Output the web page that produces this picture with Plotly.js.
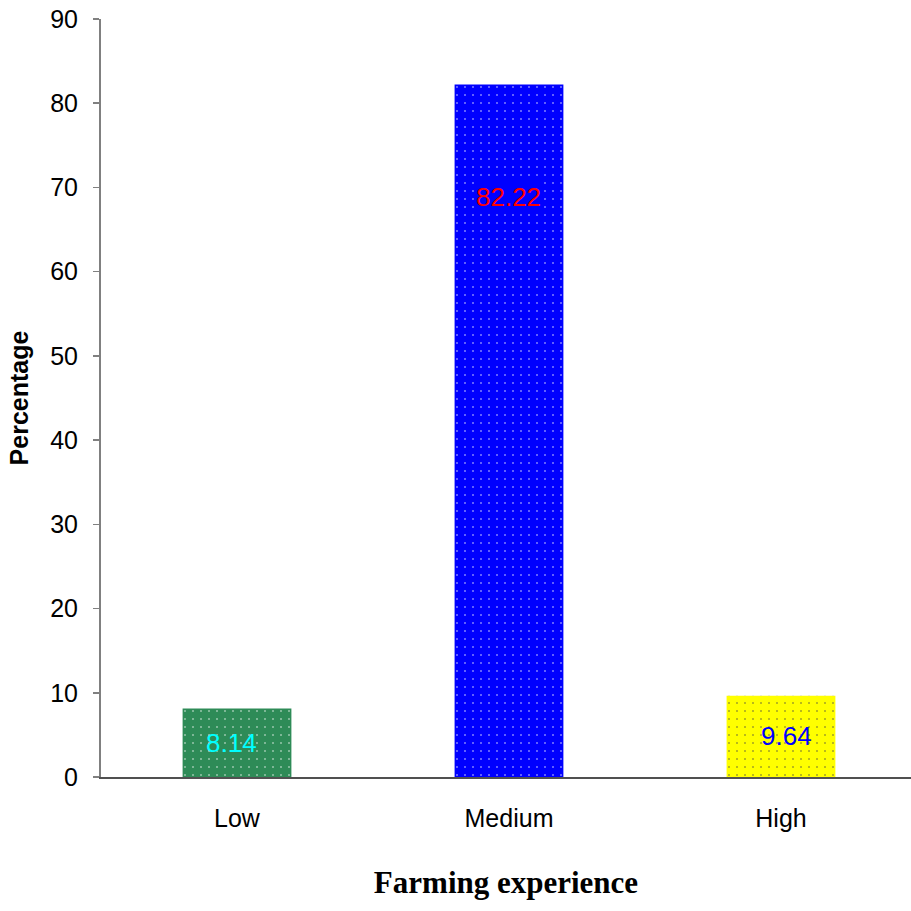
<!DOCTYPE html>
<html>
<head>
<meta charset="utf-8">
<script src="https://cdn.plot.ly/plotly-3.0.1.min.js"></script>
<style>
  html, body { margin: 0; padding: 0; background: #fff; }
  #chart { width: 911px; height: 911px; }
</style>
</head>
<body>
<div id="chart"></div>
<script>
// Farming experience distribution (percent of respondents)
const categories = ["Low", "Medium", "High"];
const percentages = [8.14, 82.22, 9.64];
const barColors = ["#2E8B57", "#0000FF", "#FFFF00"];
const dotColors = ["rgba(190,235,205,0.8)", "rgba(190,190,255,0.8)", "rgba(120,200,40,0.9)"];
const labelColors = ["#00FFFF", "#FF0000", "#0000FF"];
const labelBackgrounds = ["rgba(0,0,0,0)", "#0000FF", "rgba(0,0,0,0)"];
const yTicks = [0, 10, 20, 30, 40, 50, 60, 70, 80, 90];

const trace = {
  type: "bar",
  x: categories,
  y: percentages,
  width: 0.4,
  marker: {
    color: barColors,
    line: { width: 0 },
    pattern: {
      shape: ".",
      bgcolor: barColors,
      fgcolor: dotColors,
      fillmode: "overlay",
      size: 8,
      solidity: 0.05
    }
  },
  hoverinfo: "x+y",
  showlegend: false
};

// Value labels: short bars get them centred, tall bars get them near the top
const annotations = percentages.map((v, i) => ({
  x: categories[i],
  y: v > 50 ? v - 13.4 : v / 2,
  xref: "x",
  yref: "y",
  text: v.toFixed(2),
  showarrow: false,
  xanchor: "center",
  yanchor: "middle",
  xshift: [-6, 0, 6][i],
  font: { family: "Liberation Sans, Arial, sans-serif", size: 26, color: labelColors[i] },
  bgcolor: labelBackgrounds[i],
  borderpad: 1
}));

const layout = {
  width: 911,
  height: 911,
  margin: { l: 101, r: 0, t: 19, b: 134 },
  paper_bgcolor: "#ffffff",
  plot_bgcolor: "#ffffff",
  font: { family: "Liberation Sans, Arial, sans-serif", size: 24, color: "#000" },
  xaxis: {
    type: "category",
    range: [-0.5, 2.478],
    showgrid: false,
    zeroline: false,
    showline: true,
    linecolor: "#505050",
    linewidth: 2,
    ticks: "",
    ticklabelstandoff: 18,
    tickfont: { size: 25, color: "#000" },
    title: {
      text: "Farming experience",
      font: { family: "Liberation Serif, Times New Roman, serif", size: 31, color: "#000", weight: "bold" },
      standoff: 40
    }
  },
  yaxis: {
    range: [0, 90],
    tickvals: yTicks,
    ticktext: yTicks.map(String),
    showgrid: false,
    zeroline: false,
    showline: true,
    linecolor: "#808080",
    linewidth: 2,
    ticks: "outside",
    ticklen: 6,
    tickwidth: 1.5,
    tickcolor: "#808080",
    ticklabelstandoff: 10,
    tickfont: { size: 25, color: "#000" },
    title: {
      text: "Percentage",
      font: { family: "Liberation Sans, Arial, sans-serif", size: 25, color: "#000", weight: "bold" },
      standoff: 14
    }
  },
  annotations: annotations
};

Plotly.newPlot("chart", [trace], layout, { displayModeBar: false, staticPlot: true });
</script>
</body>
</html>
